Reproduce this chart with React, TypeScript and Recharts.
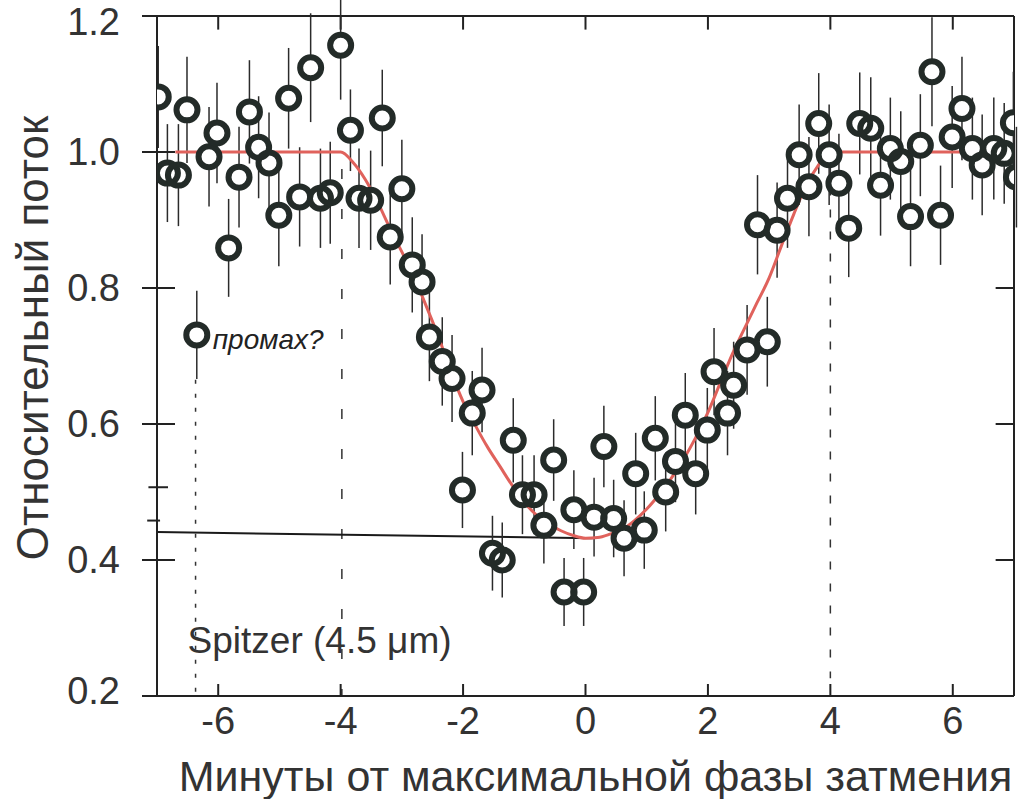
import React from 'react';
import {
  ComposedChart,
  Scatter,
  Line,
  XAxis,
  YAxis,
  ErrorBar,
  ReferenceLine,
  ReferenceDot,
} from 'recharts';

// Измерения Spitzer (4.5 мкм): время от середины затмения, поток, ошибка
const TIME_MIN = [
  -6.98, -6.83, -6.65, -6.51, -6.35, -6.15, -6.02, -5.83, -5.66, -5.49, -5.34, -5.17, -5.01, -4.85,
  -4.67, -4.49, -4.33, -4.17, -4.0, -3.84, -3.7, -3.51, -3.32, -3.19, -3.0, -2.83, -2.67, -2.55,
  -2.34, -2.18, -2.01, -1.85, -1.69, -1.52, -1.36, -1.18, -1.03, -0.84, -0.68, -0.52, -0.35, -0.19,
  -0.03, 0.14, 0.3, 0.46, 0.63, 0.82, 0.96, 1.14, 1.31, 1.47, 1.63, 1.8, 1.99, 2.1, 2.32, 2.42,
  2.64, 2.97, 2.81, 3.13, 3.3, 3.49, 3.65, 3.81, 3.98, 4.14, 4.3, 4.48, 4.66, 4.82, 4.98, 5.15,
  5.31, 5.47, 5.66, 5.8, 5.99, 6.15, 6.32, 6.48, 6.67, 6.84, 6.99, 7.04,
];
const FLUX = [
  1.081, 0.969, 0.966, 1.062, 0.731, 0.993, 1.028, 0.859, 0.963, 1.059, 1.007, 0.984, 0.907, 1.079,
  0.934, 1.124, 0.932, 0.94, 1.157, 1.032, 0.932, 0.929, 1.05, 0.875, 0.946, 0.834, 0.809, 0.728,
  0.692, 0.667, 0.503, 0.616, 0.65, 0.41, 0.4, 0.576, 0.496, 0.496, 0.451, 0.547, 0.353, 0.474,
  0.353, 0.463, 0.567, 0.461, 0.432, 0.527, 0.444, 0.579, 0.5, 0.545, 0.613, 0.527, 0.591, 0.677,
  0.616, 0.657, 0.709, 0.721, 0.893, 0.885, 0.932, 0.996, 0.949, 1.042, 0.996, 0.954, 0.888, 1.042,
  1.035, 0.951, 1.005, 0.986, 0.905, 1.01, 1.118, 0.907, 1.022, 1.064, 1.005, 0.981, 1.005, 0.998,
  1.043, 0.963,
];
const FLUX_ERR = [
  0.075, 0.072, 0.075, 0.078, 0.065, 0.073, 0.074, 0.072, 0.074, 0.076, 0.075, 0.074, 0.075, 0.074,
  0.073, 0.08, 0.073, 0.075, 0.08, 0.06, 0.073, 0.073, 0.071, 0.07, 0.072, 0.07, 0.07, 0.065,
  0.065, 0.064, 0.056, 0.062, 0.062, 0.055, 0.055, 0.062, 0.058, 0.058, 0.056, 0.06, 0.05, 0.058,
  0.05, 0.058, 0.06, 0.057, 0.056, 0.06, 0.057, 0.062, 0.058, 0.06, 0.062, 0.06, 0.062, 0.064,
  0.062, 0.064, 0.066, 0.066, 0.073, 0.07, 0.073, 0.074, 0.073, 0.074, 0.074, 0.073, 0.072, 0.075,
  0.075, 0.074, 0.075, 0.074, 0.073, 0.075, 0.08, 0.073, 0.075, 0.076, 0.075, 0.074, 0.075, 0.074,
  0.075, 0.074,
];

// модельная кривая (красная)
const MODEL_TIME = [
  -6.7, -4.0, -3.8, -3.6, -3.4, -3.2, -3.0, -2.8, -2.6, -2.4, -2.2, -2.0, -1.8, -1.6, -1.4, -1.2,
  -1.0, -0.8, -0.6, -0.4, -0.2, 0, 0.2, 0.4, 0.6, 0.8, 1.0, 1.2, 1.4, 1.6, 1.8, 2.0, 2.2, 2.4, 2.6,
  2.8, 3.0, 3.2, 3.4, 3.6, 3.8, 4.0, 6.73,
];
const MODEL_FLUX = [
  1.0, 1.0, 0.985, 0.96, 0.927, 0.889, 0.853, 0.816, 0.773, 0.728, 0.677, 0.633, 0.598, 0.566, 0.538,
  0.51, 0.485, 0.466, 0.453, 0.443, 0.436, 0.432, 0.433, 0.438, 0.445, 0.458, 0.475, 0.496, 0.52,
  0.548, 0.58, 0.617, 0.66, 0.703, 0.741, 0.778, 0.815, 0.862, 0.908, 0.95, 0.98, 1.0, 1.0,
];

const X_TICKS = [-6, -4, -2, 0, 2, 4, 6];
const Y_TICKS = [0.2, 0.4, 0.6, 0.8, 1.0, 1.2];
const X_DOMAIN = [-7, 7];
const Y_DOMAIN = [0.2, 1.2];

const points = TIME_MIN.map((x, i) => ({ x, y: FLUX[i], err: FLUX_ERR[i] }));
const model = MODEL_TIME.map((x, i) => ({ x, y: MODEL_FLUX[i] }));

const FONT = '"Liberation Sans", Arial, Helvetica, sans-serif';
const INK = '#222';
const RING = '#232b28';
const TICK_OUT = 15;
const TICK_GAP = 22;

const LeftTick = (props: any) => {
  const { x, y, payload } = props;
  const ax = x + TICK_OUT + TICK_GAP;
  const v = Number(payload.value);
  // крайние подписи чуть внутрь, как в оригинале
  const shift = v >= 1.19 ? 6 : v <= 0.21 ? -5 : 0;
  return (
    <g>
      <line x1={ax} x2={ax + 18} y1={y} y2={y} stroke={INK} strokeWidth={2} />
      <text x={x} y={y + shift} textAnchor="end" dominantBaseline="central" fontSize={38} fill="#333" fontFamily={FONT}>
        {v.toFixed(1)}
      </text>
    </g>
  );
};

const BottomTick = (props: any) => {
  const { x, y, payload } = props;
  return (
    <g>
      <line x1={x} x2={x} y1={y - 11} y2={y - 23} stroke={INK} strokeWidth={2} />
      <text x={x} y={y} dy="0.71em" textAnchor="middle" fontSize={38} fill="#333" fontFamily={FONT}>
        {payload.value}
      </text>
    </g>
  );
};

const MaskDot = (p: any) => <circle cx={p.cx} cy={p.cy} r={12} fill="#fff" stroke="none" />;
const RingDot = (p: any) => (
  <circle cx={p.cx} cy={p.cy} r={10.5} fill="none" stroke={RING} strokeWidth={6} />
);

export default function App() {
  return (
    <div style={{ position: 'absolute', left: 0, top: 0, background: '#fff' }}>
      <ComposedChart width={1023} height={799} margin={{ top: 16, right: 9, bottom: 0, left: 0 }}>
        <XAxis
          type="number"
          dataKey="x"
          domain={X_DOMAIN}
          ticks={X_TICKS}
          allowDataOverflow
          height={103}
          tickSize={0}
          tickMargin={11}
          tickLine={false}
          axisLine={{ stroke: INK, strokeWidth: 2 }}
          tick={<BottomTick />}
          label={{
            content: (p: any) => {
              const vb = p.viewBox;
              return (
                <text
                  x={vb.x + vb.width / 2 + 10}
                  y={vb.y + 80}
                  textAnchor="middle"
                  dominantBaseline="central"
                  fontSize={43}
                  fill="#333"
                  fontFamily={FONT}
                >
                  Минуты от максимальной фазы затмения
                </text>
              );
            },
          }}
        />
        <YAxis
          type="number"
          domain={Y_DOMAIN}
          ticks={Y_TICKS}
          allowDataOverflow
          width={157}
          tickSize={TICK_OUT}
          tickMargin={TICK_GAP}
          tickLine={{ stroke: INK, strokeWidth: 2 }}
          axisLine={{ stroke: INK, strokeWidth: 2 }}
          tick={<LeftTick />}
          label={{
            content: (p: any) => {
              const vb = p.viewBox;
              const cx = vb.x + 32;
              const cy = vb.y + vb.height / 2 - 18;
              return (
                <text
                  x={cx}
                  y={cy}
                  transform={`rotate(-90 ${cx} ${cy})`}
                  textAnchor="middle"
                  dominantBaseline="central"
                  fontSize={44}
                  fill="#333"
                  fontFamily={FONT}
                >
                  Относительный поток
                </text>
              );
            },
          }}
        />

        {/* верхняя и правая рамка с засечками */}
        <ReferenceLine segment={[{ x: -7, y: 1.2 }, { x: 7, y: 1.2 }]} stroke={INK} strokeWidth={2} />
        <ReferenceLine segment={[{ x: 7, y: 0.2 }, { x: 7, y: 1.2 }]} stroke={INK} strokeWidth={2} />
        {X_TICKS.map((t) => (
          <ReferenceLine key={`tt${t}`} segment={[{ x: t, y: 1.2 }, { x: t, y: 1.18 }]} stroke={INK} strokeWidth={2} />
        ))}
        {Y_TICKS.map((t) => (
          <ReferenceLine key={`rt${t}`} segment={[{ x: 7, y: t }, { x: 6.7, y: t }]} stroke={INK} strokeWidth={2} />
        ))}

        {/* пунктирные вертикали и горизонталь глубины */}
        <ReferenceLine
          segment={[{ x: -6.37, y: 0.665 }, { x: -6.37, y: 0.2 }]}
          stroke="#333"
          strokeWidth={1.5}
          strokeDasharray="4 10"
        />
        <ReferenceLine
          segment={[{ x: -3.98, y: 0.975 }, { x: -3.98, y: 0.2 }]}
          stroke="#333"
          strokeWidth={1.5}
          strokeDasharray="10 30"
        />
        <ReferenceLine
          segment={[{ x: 4.0, y: 0.98 }, { x: 4.0, y: 0.226 }]}
          stroke="#333"
          strokeWidth={1.5}
          strokeDasharray="8 14"
        />
        <ReferenceLine
          segment={[{ x: -7, y: 0.441 }, { x: 0.12, y: 0.432 }]}
          stroke="#1a1a1a"
          strokeWidth={2}
        />
        <ReferenceLine
          segment={[{ x: -7.14, y: 0.507 }, { x: -6.82, y: 0.507 }]}
          stroke="#222"
          strokeWidth={2}
          ifOverflow="visible"
        />
        <ReferenceLine
          segment={[{ x: -7.16, y: 0.458 }, { x: -6.95, y: 0.458 }]}
          stroke="#222"
          strokeWidth={2}
          ifOverflow="visible"
        />

        <Scatter data={points} dataKey="y" shape={MaskDot} isAnimationActive={false}>
          <ErrorBar dataKey="err" direction="y" width={0} stroke="#2b2b2b" strokeWidth={1.5} isAnimationActive={false} />
        </Scatter>
        <Scatter data={points} dataKey="y" shape={RingDot} isAnimationActive={false} />
        <Line
          data={model}
          dataKey="y"
          type="monotone"
          stroke="#e0625c"
          strokeWidth={3}
          dot={false}
          activeDot={false}
          isAnimationActive={false}
        />

        <ReferenceDot
          x={-6.5}
          y={0.282}
          r={1}
          shape={(p: any) => (
            <text x={p.cx} y={p.cy} textAnchor="start" dominantBaseline="central" fontSize={37} fill="#333" fontFamily={FONT}>
              Spitzer (4.5 μm)
            </text>
          )}
        />
        <ReferenceDot
          x={-6.09}
          y={0.724}
          r={1}
          shape={(p: any) => (
            <text x={p.cx} y={p.cy} textAnchor="start" dominantBaseline="central" fontSize={28} fontStyle="italic" fill="#222" fontFamily={FONT}>
              промах?
            </text>
          )}
        />
      </ComposedChart>
    </div>
  );
}
